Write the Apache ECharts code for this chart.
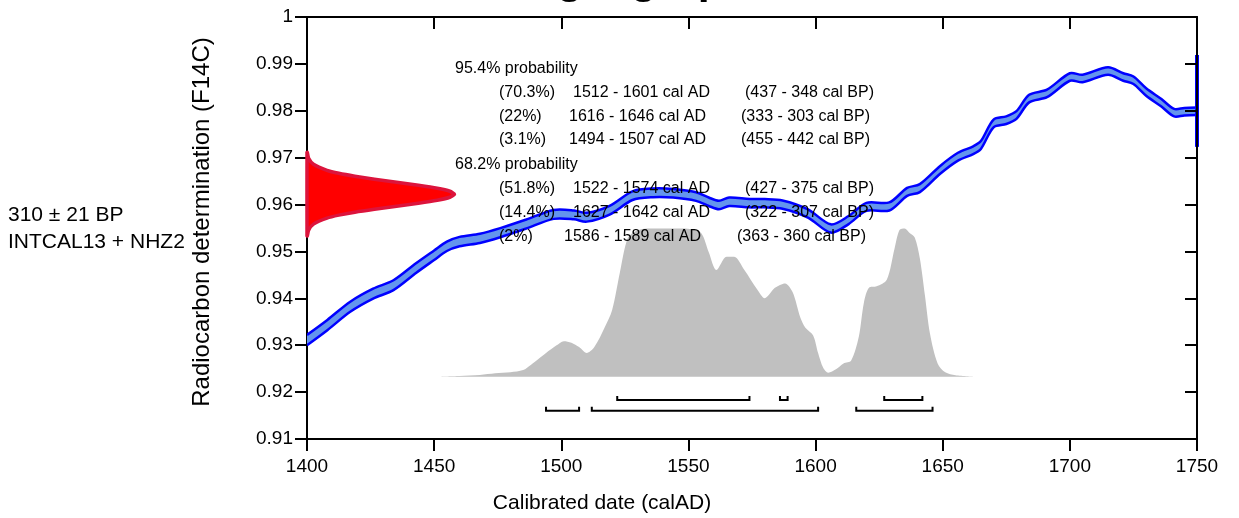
<!DOCTYPE html>
<html><head><meta charset="utf-8">
<script src="https://cdn.jsdelivr.net/npm/echarts@6/dist/echarts.min.js"></script>
<style>html,body{margin:0;padding:0;background:#fff}#c{width:1239px;height:518px}</style>
</head><body><div id="c"></div>
<script>
// ---------- data ----------
const xTicks = [1400,1450,1500,1550,1600,1650,1700,1750];
const yTicks = [0.91,0.92,0.93,0.94,0.95,0.96,0.97,0.98,0.99,1];

// calibration curve (centre, F14C) and its 1-sigma half width
const calYears = [1400,1408,1417,1426,1434,1443,1450,1455,1460,1468,1476,1486,1497,1505,1510,1519,1528,1536,1544,1553,1558,1562,1566,1574,1580,1587,1597,1606,1613,1620,1629,1636,1641,1649,1656,1662,1665,1670,1675,1679,1684,1691,1700,1705,1715,1721,1725,1730,1736,1741,1745,1750];
const calF14C  = [0.9311,0.9343,0.9382,0.9410,0.9428,0.9465,0.9492,0.9511,0.9521,0.9528,0.9540,0.9558,0.9579,0.9578,0.9573,0.9588,0.9619,0.9625,0.9624,0.9617,0.9606,0.9599,0.9606,0.9603,0.9603,0.9600,0.9581,0.9549,0.9567,0.9595,0.9596,0.9627,0.9635,0.9674,0.9702,0.9716,0.9727,0.9773,0.9780,0.9791,0.9826,0.9837,0.9872,0.9869,0.9885,0.9872,0.9865,0.9840,0.9817,0.9796,0.9798,0.9799];
const calSigma = [0.00110,0.00110,0.00108,0.00106,0.00105,0.00104,0.00102,0.00100,0.00100,0.00098,
                  0.00097,0.00096,0.00095,0.00095,0.00094,0.00094,0.00093,0.00093,0.00092,0.00092,
                  0.00090,0.00090,0.00090,0.00090,0.00088,0.00088,0.00088,0.00088,0.00086,0.00086,
                  0.00086,0.00085,0.00085,0.00084,0.00084,0.00083,0.00083,0.00082,0.00082,0.00082,
                  0.00081,0.00081,0.00080,0.00080,0.00080,0.00080,0.00080,0.00080,0.00080,0.00080,
                  0.00080,0.00080];
// blue segment drawn on the right frame edge
const edgeYear = [1750,1750];
const edgeF14C = [0.9919,0.9723];

// measured radiocarbon determination (red profile): F14C level and relative extent (years)
const measF14C  = [0.97113,0.96985,0.96858,0.96730,0.96666,0.96603,0.96539,0.96475,0.96411,0.96348,0.96284,0.9622,
                   0.96156,0.96093,0.96029,0.95965,0.95901,0.95838,0.95774,0.95710,0.95583,0.95455,0.95328];
const measWidth = [0.12,0.64,2.55,7.85,12.5,18.8,26.5,35.2,43.8,51.2,56.2,58.0,
                   56.2,51.2,43.8,35.2,26.5,18.8,12.5,7.85,2.55,0.64,0.12];

// calibrated probability distribution (relative)
const distYears = [1451,1460,1468,1474,1480,1485,1488,1491,1494,1498,1501,1504,1507,1510,1513,1517,1520,1523,1526,1529,1534,1540,1546,1551,1555,1558,1561,1565,1568,1572,1577,1580,1584,1588,1591,1594,1596,1599,1601,1603,1605,1608,1611,1614,1617,1619,1621,1624,1628,1631,1633,1635,1637,1639,1641,1643,1645,1648,1651,1655,1663];
const distProb  = [0,0.005,0.012,0.023,0.03,0.045,0.08,0.12,0.16,0.21,0.24,0.23,0.20,0.16,0.20,0.33,0.45,0.70,0.93,0.98,1.0,1.0,1.0,0.995,0.97,0.84,0.72,0.81,0.81,0.72,0.59,0.53,0.60,0.63,0.57,0.40,0.33,0.28,0.16,0.06,0.027,0.05,0.09,0.11,0.27,0.50,0.60,0.61,0.655,0.86,0.99,1.0,0.97,0.94,0.80,0.55,0.29,0.09,0.03,0.01,0];

// ranges
const range95Start = [1512,1616,1494];
const range95End   = [1601,1646,1507];
const range68Start = [1522,1627,1586];
const range68End   = [1574,1642,1589];
const pct95 = ['(70.3%)','(22%)','(3.1%)'];
const pct68 = ['(51.8%)','(14.4%)','(2%)'];
const bp95 = ['(437 - 348 cal BP)','(333 - 303 cal BP)','(455 - 442 cal BP)'];
const bp68 = ['(427 - 375 cal BP)','(322 - 307 cal BP)','(363 - 360 cal BP)'];
const headers = ['95.4% probability','68.2% probability'];
const sampleLabel = ['310 \u00b1 21 BP','INTCAL13 + NHZ2'];
const titleText = 'Single graph';

// ---------- layout / style ----------
const FONT = '"Liberation Sans", Arial, Helvetica, sans-serif';
const DIST_BASE = 0.92328, DIST_SCALE = 0.0316;
const BRACKET_Y = {68: 0.9183, 95: 0.91603}, BRACKET_TICK = 0.00085;
const HEADER_X = 455, PCT_X = 499;
const AD_X = [573,569,569,573,573,564];
const BP_X = [745,741,741,745,745,737];
const HEADER_Y = [69,165];
const ROW_Y = [92.7,116.7,140,188.3,212.3,236.7];
const SMOOTH = 0.3;

const adText = (s,e)=> s + ' - ' + e + ' cal AD';

const calData   = calYears.map((y,i)=>[y, calF14C[i], calSigma[i]]);
const distData  = distYears.map((y,i)=>[y, DIST_BASE + distProb[i]*DIST_SCALE]);
const measData  = measF14C.map((v,i)=>[xTicks[0] + measWidth[i], v]);
const bracketData = [];
range95Start.forEach((s,i)=>bracketData.push([s, range95End[i], 95]));
range68Start.forEach((s,i)=>bracketData.push([s, range68End[i], 68]));

const graphic = [];
const txt = (x,y,t,size,extra)=>Object.assign({type:'text', x:x, y:y, z:100,
  style:Object.assign({text:t, fill:'#000', font: size+'px '+FONT, verticalAlign:'middle', align:'left'}, extra||{})});
graphic.push(txt(620,-19,titleText,43,{align:'center', font:'bold 43px '+FONT}));
graphic.push(txt(8,215,sampleLabel[0],21));
graphic.push(txt(8,242,sampleLabel[1],21));
graphic.push(txt(HEADER_X,HEADER_Y[0],headers[0],16));
graphic.push(txt(HEADER_X,HEADER_Y[1],headers[1],16));
const rows = [];
for (let i=0;i<3;i++) rows.push([pct95[i], adText(range95Start[i],range95End[i]), bp95[i]]);
for (let i=0;i<3;i++) rows.push([pct68[i], adText(range68Start[i],range68End[i]), bp68[i]]);
rows.forEach((r,i)=>{
  graphic.push(txt(PCT_X,ROW_Y[i],r[0],16));
  graphic.push(txt(AD_X[i],ROW_Y[i],r[1],16));
  graphic.push(txt(BP_X[i],ROW_Y[i],r[2],16));
});

const axLine = {show:true, lineStyle:{color:'#000', width:2}};
const tick = (inside)=>({show:true, inside:inside, length:12, lineStyle:{color:'#000', width:2}});

const option = {
  animation:false,
  backgroundColor:'#fff',
  grid:{left:307, right:42, top:17, bottom:79, containLabel:false, outerBoundsMode:'none'},
  graphic: graphic,
  xAxis:[
    {type:'value', position:'bottom', min:xTicks[0], max:xTicks[xTicks.length-1], interval:xTicks[1]-xTicks[0],
     axisLine:axLine, axisTick:tick(false), splitLine:{show:false},
     axisLabel:{color:'#000', fontSize:19, fontFamily:FONT, margin:18, formatter:(v)=>String(v)},
     name:'Calibrated date (calAD)', nameLocation:'middle', nameGap:54,
     nameTextStyle:{color:'#000', fontSize:21, fontFamily:FONT, padding:[0,300,0,0]}},
    {type:'value', position:'top', min:xTicks[0], max:xTicks[xTicks.length-1], interval:xTicks[1]-xTicks[0],
     axisLine:axLine, axisTick:tick(true), axisLabel:{show:false}, splitLine:{show:false}}
  ],
  yAxis:[
    {type:'value', position:'left', min:yTicks[0], max:yTicks[yTicks.length-1], interval:0.01,
     axisLine:axLine, axisTick:tick(false), splitLine:{show:false},
     axisLabel:{color:'#000', fontSize:19, fontFamily:FONT, margin:14},
     name:'Radiocarbon determination (F14C)', nameLocation:'middle', nameGap:93,
     nameTextStyle:{color:'#000', fontSize:24, fontFamily:FONT, padding:[0,0,0,12]}},
    {type:'value', position:'right', min:yTicks[0], max:yTicks[yTicks.length-1], interval:0.01, z:10,
     axisLine:axLine, axisTick:tick(true), axisLabel:{show:false}, splitLine:{show:false}}
  ],
  series:[
    {type:'line', name:'distribution', data:distData, smooth:SMOOTH, symbol:'none', z:1,
     lineStyle:{width:0, opacity:0}, areaStyle:{color:'#C0C0C0', opacity:1, origin:DIST_BASE}},
    {type:'custom', name:'calibration curve', coordinateSystem:'cartesian2d', data:calData, z:3, clip:true,
     encode:{x:0, y:1},
     renderItem:(params, api)=>{
       if (params.dataIndex !== 0) return null;
       const up = calData.map(d=>api.coord([d[0], d[1]+d[2]]));
       const lo = calData.map(d=>api.coord([d[0], d[1]-d[2]]));
       return {type:'group', children:[
         {type:'polygon', shape:{points:up.concat(lo.slice().reverse()), smooth:SMOOTH}, style:{fill:'#6495ED'}},
         {type:'polyline', shape:{points:up, smooth:SMOOTH}, style:{stroke:'#0000FF', lineWidth:2.5, fill:null}},
         {type:'polyline', shape:{points:lo, smooth:SMOOTH}, style:{stroke:'#0000FF', lineWidth:2.5, fill:null}}
       ]};
     }},
    {type:'line', name:'edge', data:edgeYear.map((y,i)=>[y, edgeF14C[i]]), symbol:'none', z:4,
     lineStyle:{color:'#0000FF', width:4}},
    {type:'custom', name:'measurement', coordinateSystem:'cartesian2d', data:measData, z:5, clip:false,
     renderItem:(params, api)=>{
       if (params.dataIndex !== 0) return null;
       const pts = measData.map(d=>api.coord(d));
       const top = api.coord([xTicks[0], measF14C[0]]);
       const bot = api.coord([xTicks[0], measF14C[measF14C.length-1]]);
       return {type:'polygon', shape:{points:[top].concat(pts,[bot]), smooth:0.2},
               style:{fill:'#FF0000', stroke:'#DC143C', lineWidth:3.5}};
     }},
    {type:'custom', name:'ranges', coordinateSystem:'cartesian2d', data:bracketData, z:5,
     renderItem:(params, api)=>{
       const s = api.value(0), e = api.value(1), lvl = api.value(2);
       const yv = BRACKET_Y[lvl];
       return {type:'polyline', shape:{points:[
         api.coord([s, yv+BRACKET_TICK]), api.coord([s, yv]), api.coord([e, yv]), api.coord([e, yv+BRACKET_TICK])]},
         style:{stroke:'#000', lineWidth:2, fill:null}};
     }}
  ]
};
const chart = echarts.init(document.getElementById('c'));
chart.setOption(option);
</script></body></html>
